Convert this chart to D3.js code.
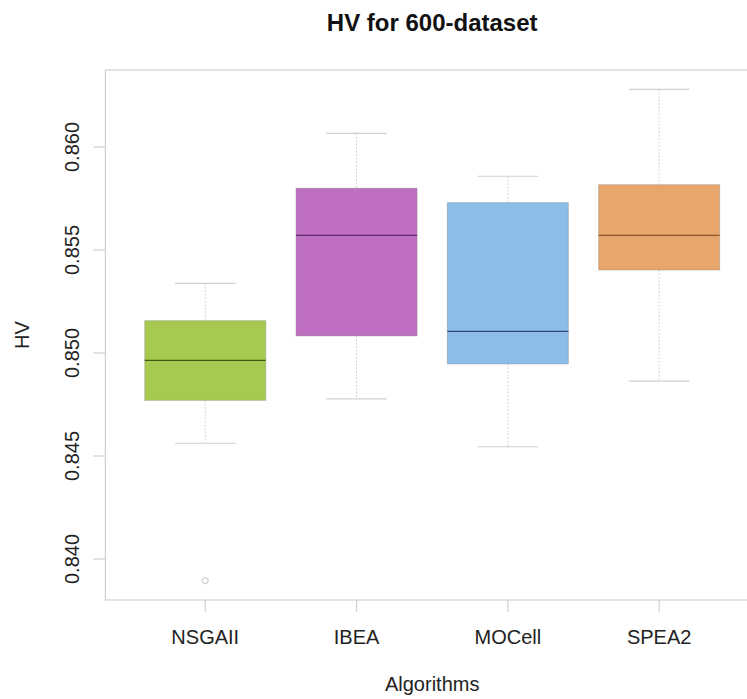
<!DOCTYPE html>
<html>
<head>
<meta charset="utf-8">
<script src="https://cdn.jsdelivr.net/npm/d3@7"></script>
<style>
  html, body { margin: 0; padding: 0; background: #fff; }
  svg { display: block; font-family: "Liberation Sans", Arial, Helvetica, sans-serif; }
</style>
</head>
<body>
<svg id="chart" width="747" height="699"></svg>
<script>
// Hypervolume summary per algorithm (box-plot statistics)
const categories  = ["NSGAII", "IBEA", "MOCell", "SPEA2"];
const whiskerLow  = [0.84562, 0.84777, 0.84545, 0.84863];
const q1          = [0.84770, 0.85083, 0.84947, 0.85403];
const median      = [0.84964, 0.85571, 0.85105, 0.85571];
const q3          = [0.85157, 0.85800, 0.85730, 0.85817];
const whiskerHigh = [0.85338, 0.86066, 0.85858, 0.86280];
const outliers    = [[0.83895], [], [], []];
const yTicks      = [0.840, 0.845, 0.850, 0.855, 0.860];

const fills   = ["#a6ca50", "#bf6fc2", "#8bbde8", "#e8a66c"];
const medians = ["#3f5c14", "#5b2a62", "#2b4a6c", "#8a5528"];

const svg = d3.select("#chart");

// plotting region (right edge of the frame runs past the canvas)
const plot = { left: 105.4, right: 759, top: 70, bottom: 600 };

const x = d3.scaleLinear().domain([0.34, 4.66]).range([plot.left, plot.right]);
const y = d3.scaleLinear().domain([0.840, 0.860]).range([559, 147]);

const boxHalf = (x(1.4) - x(1)) ;   // box is 0.8 units wide
const capHalf = (x(1.2) - x(1));    // whisker caps are 0.4 units wide
const grey = "#cfcfcf";

// frame
svg.append("rect")
  .attr("x", plot.left).attr("y", plot.top)
  .attr("width", plot.right - plot.left).attr("height", plot.bottom - plot.top)
  .attr("fill", "none").attr("stroke", grey).attr("stroke-width", 1.2);

// y axis ticks and labels
const yAxis = svg.append("g");
yTicks.forEach(t => {
  yAxis.append("line")
    .attr("x1", plot.left - 12).attr("x2", plot.left)
    .attr("y1", y(t)).attr("y2", y(t))
    .attr("stroke", grey).attr("stroke-width", 1.2);
  yAxis.append("text")
    .attr("transform", `translate(79,${y(t)}) rotate(-90)`)
    .attr("text-anchor", "middle")
    .attr("font-size", 20).attr("fill", "#222")
    .text(d3.format(".3f")(t));
});

// x axis ticks and labels
const xAxis = svg.append("g");
categories.forEach((c, i) => {
  const cx = x(i + 1);
  xAxis.append("line")
    .attr("x1", cx).attr("x2", cx)
    .attr("y1", plot.bottom).attr("y2", plot.bottom + 12)
    .attr("stroke", grey).attr("stroke-width", 1.2);
  xAxis.append("text")
    .attr("x", cx).attr("y", 644)
    .attr("text-anchor", "middle")
    .attr("font-size", 20).attr("fill", "#222")
    .text(c);
});

// boxes
const boxes = svg.append("g");
categories.forEach((c, i) => {
  const cx = x(i + 1);
  const g = boxes.append("g");
  // dotted whiskers
  g.append("line")
    .attr("x1", cx).attr("x2", cx)
    .attr("y1", y(whiskerHigh[i])).attr("y2", y(q3[i]))
    .attr("stroke", "#c8c8c8").attr("stroke-width", 1)
    .attr("stroke-dasharray", "1.5,2");
  g.append("line")
    .attr("x1", cx).attr("x2", cx)
    .attr("y1", y(q1[i])).attr("y2", y(whiskerLow[i]))
    .attr("stroke", "#c8c8c8").attr("stroke-width", 1)
    .attr("stroke-dasharray", "1.5,2");
  // caps
  [whiskerHigh[i], whiskerLow[i]].forEach(v => {
    g.append("line")
      .attr("x1", cx - capHalf).attr("x2", cx + capHalf)
      .attr("y1", y(v)).attr("y2", y(v))
      .attr("stroke", grey).attr("stroke-width", 1.2);
  });
  // box
  g.append("rect")
    .attr("x", cx - boxHalf).attr("y", y(q3[i]))
    .attr("width", boxHalf * 2).attr("height", y(q1[i]) - y(q3[i]))
    .attr("fill", fills[i])
    .attr("stroke", "rgba(120,120,120,0.35)").attr("stroke-width", 1);
  // median
  g.append("line")
    .attr("x1", cx - boxHalf).attr("x2", cx + boxHalf)
    .attr("y1", y(median[i])).attr("y2", y(median[i]))
    .attr("stroke", medians[i]).attr("stroke-width", 1.2);
  // outliers
  outliers[i].forEach(v => {
    g.append("circle")
      .attr("cx", cx).attr("cy", y(v)).attr("r", 3)
      .attr("fill", "none").attr("stroke", "#c0c0c0").attr("stroke-width", 1);
  });
});

// titles
svg.append("text")
  .attr("x", (plot.left + plot.right) / 2).attr("y", 31)
  .attr("text-anchor", "middle")
  .attr("font-size", 24).attr("font-weight", "bold").attr("fill", "#111")
  .text("HV for 600-dataset");

svg.append("text")
  .attr("x", (plot.left + plot.right) / 2).attr("y", 691)
  .attr("text-anchor", "middle")
  .attr("font-size", 20).attr("fill", "#222")
  .text("Algorithms");

svg.append("text")
  .attr("transform", `translate(29,${(plot.top + plot.bottom) / 2}) rotate(-90)`)
  .attr("text-anchor", "middle")
  .attr("font-size", 20).attr("fill", "#222")
  .text("HV");
</script>
</body>
</html>
